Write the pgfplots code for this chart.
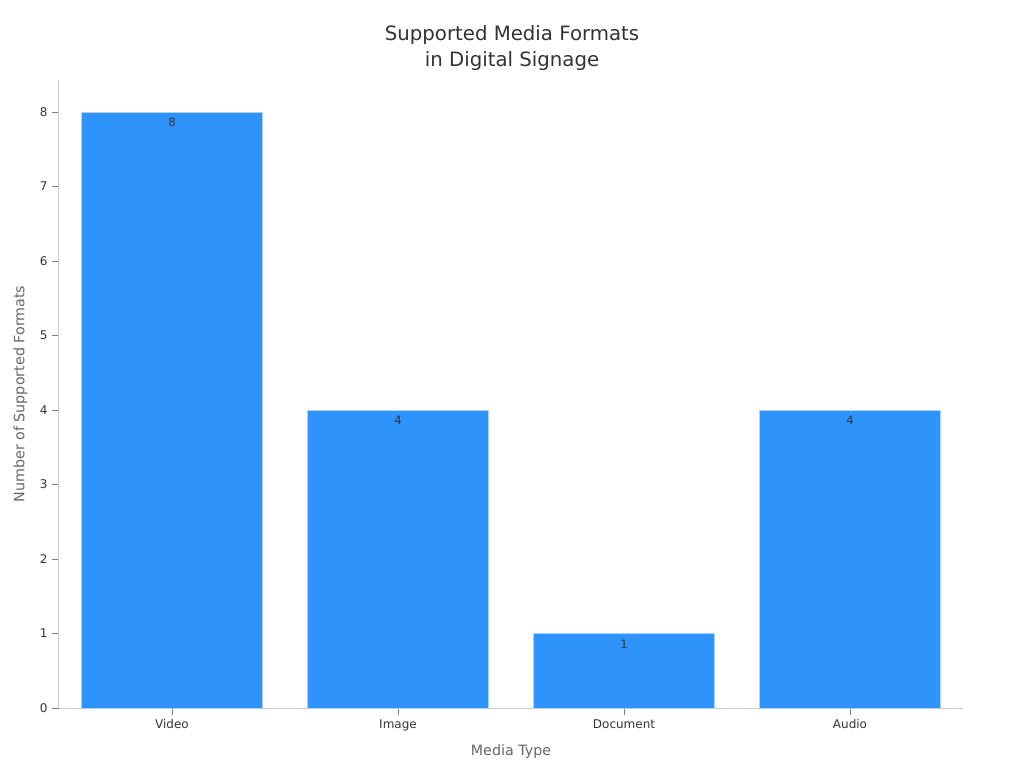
\documentclass[border=0pt]{standalone}
\usepackage{pgfplots}
\pgfplotsset{compat=1.18}
\usepackage{fontspec}
\setmainfont{DejaVu Sans}
\definecolor{barblue}{HTML}{2E93FA}
\definecolor{baredge}{HTML}{A8D2FF}
\definecolor{axisgray}{HTML}{CCCCCC}
\definecolor{labelgray}{HTML}{666666}
\definecolor{ticktext}{HTML}{333333}
\begin{document}
\begin{tikzpicture}[x=1pt,y=1pt]
\path[use as bounding box] (0,0) rectangle (768,576);
\begin{axis}[
    at={(44.25pt,45pt)}, anchor=south west,
    scale only axis,
    width=678pt, height=471pt,
    ymin=0, ymax=8.43,
    xmin=-0.5, xmax=3.5,
    axis x line*=bottom, axis y line*=left,
    axis line style={axisgray, line width=0.75pt, -},
    tick style={gray, line width=0.75pt},
    tick align=outside,
    major tick length=5pt,
    xtick=data,
    xticklabels={Video, Image, Document, Audio},
    ytick={0,1,...,8},
    ticklabel style={font=\fontsize{9}{10}\selectfont, text=ticktext},
    /pgf/number format/assume math mode=true,
    xlabel={Media Type},
    ylabel={Number of Supported Formats},
    label style={font=\fontsize{10.7}{12}\selectfont, text=labelgray},
    xlabel style={at={(0.5,0)}, anchor=center, yshift=-32.5pt},
    ylabel style={at={(0,0.5)}, anchor=center, yshift=29pt},
    ybar, bar width=0.8,
    nodes near coords,
    nodes near coords style={font=\fontsize{8.7}{10}\selectfont, text=ticktext, anchor=north, yshift=-1pt},
]
\addplot[fill=barblue, draw=baredge, line width=0.75pt] coordinates {(0,8) (1,4) (2,1) (3,4)};
\end{axis}
\node[align=center, font=\fontsize{14.8}{19.5}\selectfont, text=ticktext] at (384,540) {Supported Media Formats\\in Digital Signage};
\end{tikzpicture}
\end{document}
